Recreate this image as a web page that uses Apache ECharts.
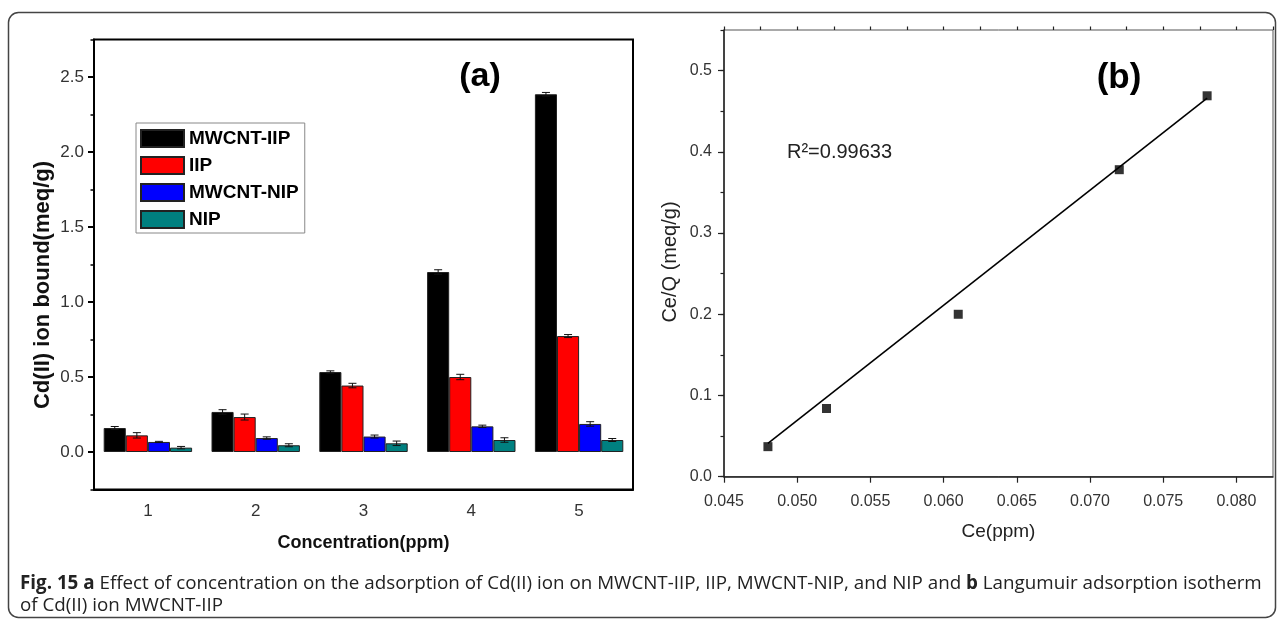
<!DOCTYPE html>
<html>
<head>
<meta charset="utf-8">
<script src="https://cdn.jsdelivr.net/npm/echarts@6/dist/echarts.min.js"></script>
<style>
html,body{margin:0;padding:0;background:#fff;}
#chart{width:1284px;height:624px;}
</style>
</head>
<body>
<div id="chart"></div>
<script>
// ---- Panel (a) data ----
const categories = ['1', '2', '3', '4', '5'];
const seriesNames = ['MWCNT-IIP', 'IIP', 'MWCNT-NIP', 'NIP'];
const mwcntIIP = [0.160, 0.267, 0.533, 1.200, 2.385];
const iip      = [0.111, 0.233, 0.443, 0.500, 0.773];
const mwcntNIP = [0.067, 0.093, 0.103, 0.171, 0.187];
const nip      = [0.029, 0.045, 0.058, 0.080, 0.080];
const mwcntIIPErr = [0.010, 0.015, 0.008, 0.015, 0.012];
const iipErr      = [0.018, 0.020, 0.015, 0.018, 0.010];
const mwcntNIPErr = [0.004, 0.008, 0.010, 0.008, 0.015];
const nipErr      = [0.008, 0.010, 0.015, 0.015, 0.010];

// ---- Panel (b) data ----
const ceValues  = [0.048, 0.052, 0.061, 0.072, 0.078];
const ceQValues = [0.037, 0.084, 0.200, 0.378, 0.469];
const fitCe     = [0.048, 0.078];
const fitCeQ    = [0.041, 0.466];
const r2Text    = 'R\u00B2=0.99633';

const barValues = [mwcntIIP, iip, mwcntNIP, nip];
const barErrors = [mwcntIIPErr, iipErr, mwcntNIPErr, nipErr];
const barColors = ['#000000', '#ff0000', '#0000ff', '#008080'];

const FONT = "'Liberation Sans', Arial, sans-serif";
const CAT_GAP = 0.18;

function errRender(k) {
  return function (params, api) {
    const ci = api.value(0), v = api.value(1), e = api.value(2);
    const band = api.size([1, 0])[0];
    const bw = band * (1 - CAT_GAP) / 4;
    const cx = api.coord([ci, v])[0] + (k - 1.5) * bw;
    const yt = api.coord([ci, v + e])[1];
    const yb = api.coord([ci, v - e])[1];
    const hw = 4;
    const st = { stroke: '#111', lineWidth: 1 };
    return {
      type: 'group',
      children: [
        { type: 'line', shape: { x1: cx, y1: yt, x2: cx, y2: yb }, style: st },
        { type: 'line', shape: { x1: cx - hw, y1: yt, x2: cx + hw, y2: yt }, style: st },
        { type: 'line', shape: { x1: cx - hw, y1: yb, x2: cx + hw, y2: yb }, style: st }
      ]
    };
  };
}

const series = [];
seriesNames.forEach(function (name, k) {
  series.push({
    type: 'bar', name: name, xAxisIndex: 0, yAxisIndex: 0,
    data: barValues[k],
    barGap: '0%', barCategoryGap: (CAT_GAP * 100) + '%',
    itemStyle: { color: barColors[k], borderColor: '#222', borderWidth: 1 },
    emphasis: { disabled: true }
  });
});
seriesNames.forEach(function (name, k) {
  series.push({
    type: 'custom', name: name, xAxisIndex: 0, yAxisIndex: 0, z: 5,
    renderItem: errRender(k),
    data: barValues[k].map(function (v, i) { return [i, v, barErrors[k][i]]; })
  });
});
series.push({
  type: 'line', xAxisIndex: 2, yAxisIndex: 2,
  data: fitCe.map(function (x, i) { return [x, fitCeQ[i]]; }),
  showSymbol: false, lineStyle: { color: '#000', width: 1.6 }, z: 3
});
series.push({
  type: 'scatter', xAxisIndex: 2, yAxisIndex: 2,
  data: ceValues.map(function (x, i) { return [x, ceQValues[i]]; }),
  symbol: 'rect', symbolSize: 9, itemStyle: { color: '#000' }, z: 4
});

const option = {
  animation: false,
  backgroundColor: '#ffffff',
  textStyle: { fontFamily: FONT },
  grid: [
    { left: 94, top: 39.5, right: 651, bottom: 134.5, show: true, borderColor: '#000', borderWidth: 2 },
    { left: 724, top: 30, right: 11, bottom: 147.3, show: true, borderColor: '#555', borderWidth: 1 }
  ],
  legend: {
    data: seriesNames, orient: 'vertical', left: 136, top: 123,
    itemWidth: 43, itemHeight: 17, itemGap: 8, icon: 'rect',
    padding: [6, 6, 4, 4], borderColor: '#888', borderWidth: 1,
    textStyle: { fontSize: 19, fontWeight: 'bold', color: '#000', fontFamily: FONT },
    selectedMode: false
  },
  xAxis: [
    {
      type: 'category', gridIndex: 0, data: categories, boundaryGap: true,
      name: 'Concentration(ppm)', nameLocation: 'middle', nameGap: 45,
      nameTextStyle: { fontSize: 18, fontWeight: 'bold', color: '#111', fontFamily: FONT },
      axisLine: { onZero: false, lineStyle: { color: '#000', width: 2 } },
      axisTick: { length: 6, lineStyle: { color: '#000', width: 2 } },
      axisLabel: { fontSize: 17, color: '#333', margin: 13, fontFamily: FONT },
      splitLine: { show: false }
    },
    {
      type: 'category', gridIndex: 0, data: categories, boundaryGap: true, position: 'bottom',
      axisLine: { show: false, onZero: false },
      axisTick: { alignWithLabel: true, length: 9, lineStyle: { color: '#000', width: 2 } },
      axisLabel: { show: false }, splitLine: { show: false }
    },
    {
      type: 'value', gridIndex: 1, min: 0.045, max: 0.0825, interval: 0.005,
      name: 'Ce(ppm)', nameLocation: 'middle', nameGap: 46,
      nameTextStyle: { fontSize: 19, color: '#222', fontFamily: FONT },
      axisLine: { onZero: false, lineStyle: { color: '#222', width: 1.5 } },
      axisTick: { length: 6, lineStyle: { color: '#222', width: 1.2 } },
      axisLabel: { fontSize: 16, color: '#333', margin: 17, showMaxLabel: false, fontFamily: FONT,
        formatter: function (v) { return v.toFixed(3); } },
      splitLine: { show: false }
    },
    {
      type: 'value', gridIndex: 1, min: 0.045, max: 0.0825, interval: 0.0025,
      axisLine: { show: false, onZero: false },
      axisTick: { length: 3.5, lineStyle: { color: '#222', width: 1.2 } },
      axisLabel: { show: false }, splitLine: { show: false }
    }
  ],
  yAxis: [
    {
      type: 'value', gridIndex: 0, min: -0.25, max: 2.75, splitNumber: 6,
      axisLine: { show: true, onZero: false, lineStyle: { color: '#000', width: 2 } },
      axisTick: { show: true, length: 6, lineStyle: { color: '#000', width: 2 } },
      axisLabel: { fontSize: 17, color: '#333', margin: 10, showMinLabel: false, showMaxLabel: false,
        fontFamily: FONT, formatter: function (v) { return v.toFixed(1); } },
      splitLine: { show: false }
    },
    {
      type: 'value', gridIndex: 0, min: -0.25, max: 2.75, interval: 0.25, position: 'left',
      axisLine: { show: false, onZero: false },
      axisTick: { show: true, length: 3.5, lineStyle: { color: '#000', width: 1.5 } },
      axisLabel: { show: false }, splitLine: { show: false }
    },
    {
      type: 'value', gridIndex: 1, min: 0, max: 0.55, interval: 0.1,
      axisLine: { show: true, onZero: false, lineStyle: { color: '#222', width: 1.5 } },
      axisTick: { show: true, length: 6, lineStyle: { color: '#222', width: 1.2 } },
      axisLabel: { fontSize: 16, color: '#333', margin: 12, showMaxLabel: false, fontFamily: FONT,
        formatter: function (v) { return v.toFixed(1); } },
      splitLine: { show: false }
    },
    {
      type: 'value', gridIndex: 1, min: 0, max: 0.55, interval: 0.05, position: 'left',
      axisLine: { show: false, onZero: false },
      axisTick: { show: true, length: 3.5, lineStyle: { color: '#222', width: 1.2 } },
      axisLabel: { show: false }, splitLine: { show: false }
    }
  ],
  series: series,
  graphic: [
    {
      type: 'rect', z: -1, silent: true,
      shape: { x: 8.5, y: 12.5, width: 1267, height: 605, r: 10 },
      style: { fill: 'none', stroke: '#444', lineWidth: 1.5 }
    },
    {
      type: 'text', x: 43, y: 285, rotation: Math.PI / 2,
      style: { text: 'Cd(II) ion bound(meq/g)', font: "bold 22px 'Liberation Sans', Arial, sans-serif",
        fill: '#111', textAlign: 'center', textVerticalAlign: 'middle' }
    },
    {
      type: 'text', x: 670, y: 262, rotation: Math.PI / 2,
      style: { text: 'Ce/Q (meq/g)', font: "20px 'Liberation Sans', Arial, sans-serif",
        fill: '#222', textAlign: 'center', textVerticalAlign: 'middle' }
    },
    {
      type: 'text', x: 480, y: 77,
      style: { text: '(a)', font: "bold 34px 'Liberation Sans', Arial, sans-serif",
        fill: '#000', textAlign: 'center', textVerticalAlign: 'middle' }
    },
    {
      type: 'text', x: 1119, y: 78,
      style: { text: '(b)', font: "bold 35px 'Liberation Sans', Arial, sans-serif",
        fill: '#000', textAlign: 'center', textVerticalAlign: 'middle' }
    },
    {
      type: 'text', x: 787, y: 152,
      style: { text: r2Text, font: "20px 'Liberation Sans', Arial, sans-serif",
        fill: '#222', textAlign: 'left', textVerticalAlign: 'middle' }
    },
    {
      type: 'text', x: 20, y: 573,
      style: {
        text: '{b|Fig. 15 a} Effect of concentration on the adsorption of Cd(II) ion on MWCNT-IIP, IIP, MWCNT-NIP, and NIP and {b|b} Langumuir adsorption isotherm\nof Cd(II) ion MWCNT-IIP',
        fontFamily: "'Open Sans', 'Noto Sans', sans-serif", fontSize: 18.8, lineHeight: 22,
        fill: '#222',
        rich: { b: { fontWeight: 'bold', fontFamily: "'Open Sans', 'Noto Sans', sans-serif", fontSize: 18.8, lineHeight: 22, fill: '#222' } }
      }
    }
  ]
};

const chart = echarts.init(document.getElementById('chart'), null, { renderer: 'canvas' });
chart.setOption(option);
</script>
</body>
</html>
